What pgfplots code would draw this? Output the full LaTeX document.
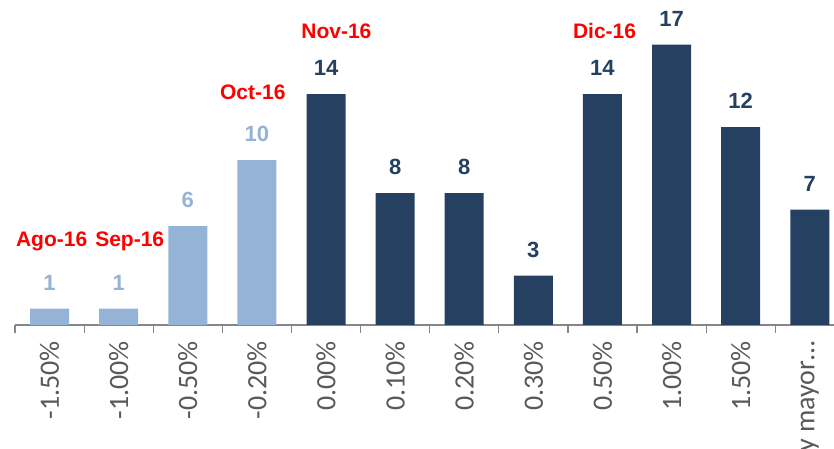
\documentclass[border=0pt]{standalone}
\usepackage{pgfplots}
\pgfplotsset{compat=1.18}
\usepackage{fontspec}
\setmainfont{Liberation Sans}
\newfontfamily\carlito{Carlito}
\definecolor{lightb}{HTML}{95B3D7}
\definecolor{darkb}{HTML}{254061}
\definecolor{axgray}{HTML}{868686}
\definecolor{txtgray}{HTML}{595959}
\definecolor{redl}{HTML}{FF0000}
\begin{document}
\begin{tikzpicture}
\useasboundingbox (-15pt,-124pt) rectangle (819pt,325pt);
\clip (-15pt,-124pt) rectangle (819pt,325pt);
\begin{axis}[
  scale only axis,
  width=819pt, height=325pt,
  xmin=-0.5, xmax=11.35,
  ymin=0, ymax=19.7,
  axis y line=none,
  axis x line*=bottom,
  x axis line style={axgray, line width=1.2pt},
  ybar, bar width=39pt, bar shift=0pt,
  xtick={0,...,11},
  xticklabels={-1.50\%,-1.00\%,-0.50\%,-0.20\%,0.00\%,0.10\%,0.20\%,0.30\%,0.50\%,1.00\%,1.50\%,{y mayor\ldots}},
  major tick length=0pt,
  minor xtick={-0.5,0.5,1.5,2.5,3.5,4.5,5.5,6.5,7.5,8.5,9.5,10.5},
  minor tick length=8pt,
  tick align=outside,
  minor tick style={axgray, line width=1.2pt},
  xticklabel style={rotate=90, anchor=east, inner sep=0pt, xshift=-16pt, font=\carlito\fontsize{28}{30}\selectfont, text=txtgray},
  /pgf/number format/assume math mode=true,
  nodes near coords,
  every node near coord/.append style={anchor=south, inner sep=0pt, yshift=18pt, font=\bfseries\fontsize{22}{24}\selectfont},
  clip=false,
]
\addplot[fill=lightb, draw=none, every node near coord/.append style={text=lightb}] coordinates {(0,1) (1,1) (2,6) (3,10)};
\addplot[fill=darkb, draw=none, every node near coord/.append style={text=darkb}] coordinates {(4,14) (5,8) (6,8) (7,3) (8,14) (9,17) (10,12) (11,7)};
\node[anchor=base, text=redl, font=\bfseries\fontsize{21}{23}\selectfont, inner sep=0pt] at (axis cs:0.03,4.73) {Ago-16};
\node[anchor=base, text=redl, font=\bfseries\fontsize{21}{23}\selectfont, inner sep=0pt] at (axis cs:1.16,4.73) {Sep-16};
\node[anchor=base, text=redl, font=\bfseries\fontsize{21}{23}\selectfont, inner sep=0pt] at (axis cs:2.94,13.64) {Oct-16};
\node[anchor=base, text=redl, font=\bfseries\fontsize{21}{23}\selectfont, inner sep=0pt] at (axis cs:4.15,17.39) {Nov-16};
\node[anchor=base, text=redl, font=\bfseries\fontsize{21}{23}\selectfont, inner sep=0pt] at (axis cs:8.03,17.39) {Dic-16};
\end{axis}
\end{tikzpicture}
\end{document}
